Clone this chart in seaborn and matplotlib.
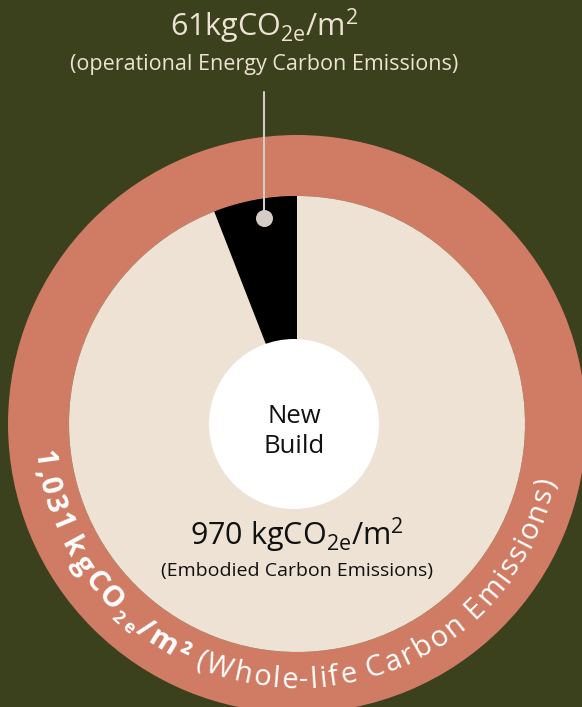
import numpy as np
import matplotlib.pyplot as plt
import seaborn as sns
from matplotlib import font_manager
from matplotlib.ft2font import FT2Font

# -------------------------
# Data
# -------------------------
segments = ["Operational Energy", "Embodied"]
values = [61, 970]
whole_life = [sum(values)]  # 1,031
segment_colors = ["#000000", "#ede2d3"]
ring_color = "#d07c65"

top_value = "61kgCO$_\\mathregular{2e}$/m$^\\mathregular{2}$"
top_label = "(operational Energy Carbon Emissions)"
inner_value = "970 kgCO$_\\mathregular{2e}$/m$^\\mathregular{2}$"
inner_label = "(Embodied Carbon Emissions)"
centre_label = ["New", "Build"]

# -------------------------
# Styling
# -------------------------
sns.set_theme(style="white")
FAMILY = "Open Sans"
plt.rcParams["font.family"] = [FAMILY, "DejaVu Sans"]
plt.rcParams["mathtext.fontset"] = "custom"
plt.rcParams["mathtext.rm"] = FAMILY

BG = "#3b401d"
LIGHT = "#ede2d3"
W, H, DPI = 582, 707, 100

fig = plt.figure(figsize=(W / DPI, H / DPI), dpi=DPI, facecolor=BG)
ax = fig.add_axes([0, 0, 1, 1])
ax.set_facecolor(BG)

cx, cy = 297, H - 424
R_out, R_in, R_hole = 289, 228, 85

# outer whole-life ring
ax.pie(whole_life, radius=R_out, center=(cx, cy), colors=[ring_color],
       wedgeprops=dict(width=R_out - R_in, linewidth=0))
# operational vs embodied
ax.pie(values, radius=R_in, center=(cx, cy), startangle=90, counterclock=True,
       colors=segment_colors, wedgeprops=dict(linewidth=0))
# centre hole
ax.pie([1], radius=R_hole, center=(cx - 3, cy), colors=["white"],
       wedgeprops=dict(linewidth=0))

ax.set_xlim(0, W)
ax.set_ylim(0, H)
ax.set_aspect("equal")
ax.axis("off")

# leader line to the black slice
label_x = 264
ax.plot([label_x, label_x], [H - 92, H - 218], color="#d5cdc5", lw=1.5, zorder=5)
ax.scatter([label_x], [H - 218], s=150, color="#d5cdc5", zorder=6, linewidths=0)

ax.text(label_x, H - 36, top_value, ha="center", va="baseline", fontsize=22, color=LIGHT)
ax.text(label_x, H - 70, top_label, ha="center", va="baseline", fontsize=15.5, color=LIGHT)

ax.text(cx - 3, H - 423, centre_label[0], ha="center", va="baseline", fontsize=18.5, color="#111111")
ax.text(cx - 3, H - 453, centre_label[1], ha="center", va="baseline", fontsize=18.5, color="#111111")

ax.text(cx, H - 545, inner_value, ha="center", va="baseline", fontsize=22, color="#111111")
ax.text(cx, H - 576, inner_label, ha="center", va="baseline", fontsize=14, color="#111111")


# -------------------------
# Curved ring label (glyph by glyph, spread over the arc)
# -------------------------
def arc_text(pieces, start_deg, end_deg, r_base):
    items = []
    for text, size, weight, shift in pieces:
        path = font_manager.findfont(font_manager.FontProperties(family=FAMILY, weight=weight))
        ft = FT2Font(path, hinting_factor=1)
        ft.set_size(size, 72)
        for ch in text:
            g = ft.load_char(ord(ch))
            adv = g.horiAdvance / 64 * DPI / 72
            items.append((ch, size, weight, shift, adv))
    total = sum(it[-1] for it in items)
    span = np.deg2rad(end_deg - start_deg)
    s = 0.0
    for ch, size, weight, shift, adv in items:
        theta = np.deg2rad(start_deg) + span * (s + adv / 2) / total
        r = r_base + shift
        ax.text(cx + r * np.cos(theta), cy + r * np.sin(theta), ch,
                fontsize=size, fontweight=weight, family=FAMILY, color="white",
                rotation=np.rad2deg(theta) + 90, rotation_mode="anchor",
                ha="center", va="baseline")
        s += adv


ring_pieces = [
    ("1,031 kgCO", 21, "bold", 0),
    ("2e", 12.5, "bold", 5),
    ("/m²", 21, "bold", 0),
    (" (Whole-life Carbon Emissions)", 21, "normal", 0),
]
arc_text(ring_pieces, 185.5, 348, 264)

plt.savefig("out.png", dpi=DPI, facecolor=BG)
plt.close()
